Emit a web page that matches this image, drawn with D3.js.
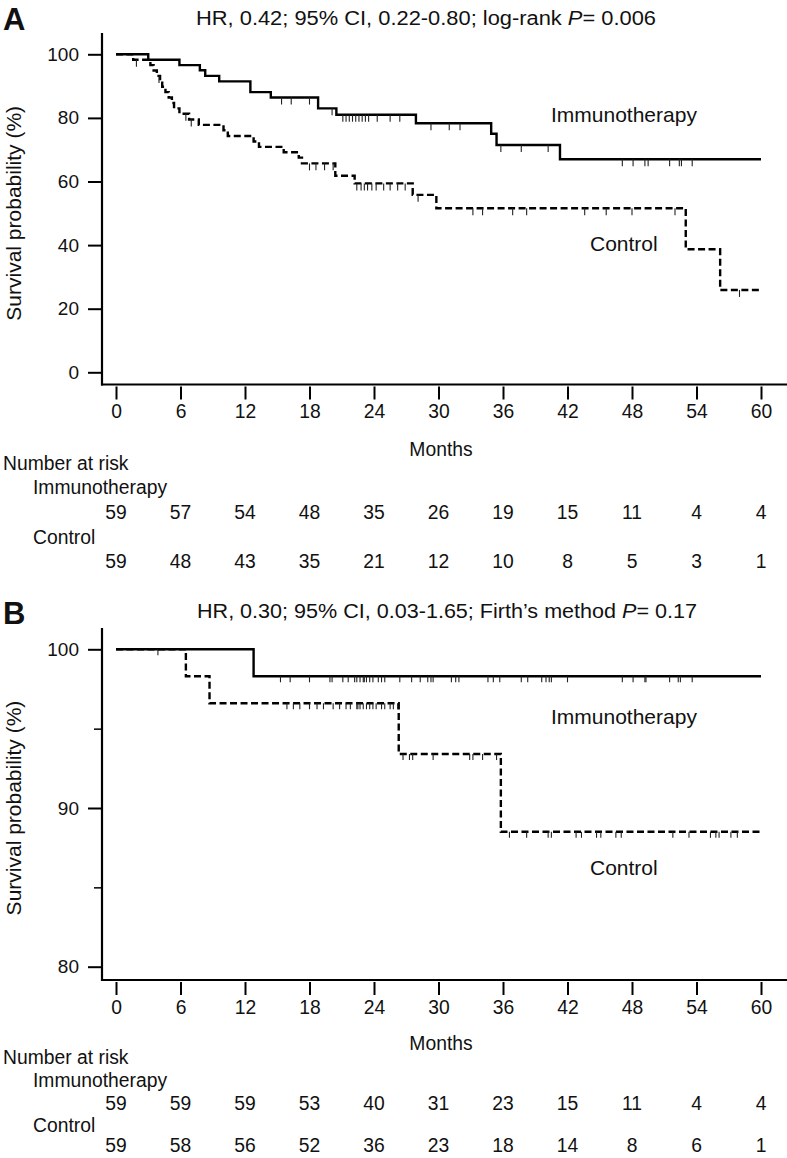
<!DOCTYPE html>
<html>
<head>
<meta charset="utf-8">
<script src="https://cdn.jsdelivr.net/npm/d3@7"></script>
<style>
  body { margin: 0; background: #fff; }
  svg { display: block; }
  text { fill: #111; }
</style>
</head>
<body>
<svg id="chart"></svg>
<script>
// ---- data ----
const monthTicks = [0, 6, 12, 18, 24, 30, 36, 42, 48, 54, 60];

// Panel A: events (month, survival %) and censor marks (month)
const immA_t = [3.0, 5.9, 7.8, 8.3, 9.6, 12.5, 14.4, 18.8, 20.5, 27.9, 34.9, 35.4, 41.3];
const immA_s = [98.3, 96.6, 95.0, 93.2, 91.5, 88.1, 86.4, 83.0, 81.0, 78.3, 75.0, 71.5, 67.0];
const immA_cens = [15.4, 16.3, 18.0, 20.1, 21.1, 21.4, 21.7, 22.0, 22.3, 22.6, 22.9, 23.2, 23.5, 24.3, 25.5, 26.4,
  29.3, 31.0, 32.0, 35.8, 37.7, 40.2, 47.1, 48.1, 49.2, 49.5, 51.5, 52.4, 52.6, 53.6];
const ctlA_t = [1.6, 3.2, 3.5, 3.8, 4.1, 4.3, 4.6, 4.9, 5.2, 5.4, 5.9, 6.8, 7.7, 10.0, 10.4, 12.8, 13.3,
  15.6, 17.0, 17.3, 20.4, 22.2, 27.6, 29.8, 53.0, 56.2];
const ctlA_s = [98.3, 96.6, 94.9, 93.2, 91.5, 89.8, 88.1, 86.4, 84.7, 83.0, 81.3, 79.5, 77.8, 76.1, 74.3, 72.6, 70.9,
  69.2, 67.5, 65.7, 61.8, 59.4, 55.8, 51.6, 38.7, 25.9];
const ctlA_cens = [1.9, 4.0, 6.5, 7.0, 18.0, 18.6, 19.4, 20.2, 22.4, 22.8, 23.1, 23.4, 23.8, 24.2, 24.9, 25.5,
  26.2, 26.9, 28.1, 33.2, 34.1, 36.9, 38.2, 43.6, 45.6, 48.0, 52.0, 58.0];
const riskA_imm = [59, 57, 54, 48, 35, 26, 19, 15, 11, 4, 4];
const riskA_ctl = [59, 48, 43, 35, 21, 12, 10, 8, 5, 3, 1];

// Panel B
const immB_t = [12.8];
const immB_s = [98.3];
const immB_cens = [3.9, 15.3, 16.2, 18.0, 19.9, 20.1, 21.1, 21.6, 22.2, 22.4, 22.7, 23.0, 23.1, 23.3, 23.6, 23.9,
  24.4, 24.7, 25.0, 26.4, 27.5, 28.3, 29.0, 29.3, 29.5, 31.2, 31.6, 31.9, 34.6, 35.1, 35.7, 37.7, 38.3,
  39.6, 40.0, 40.3, 40.5, 42.0, 47.1, 48.1, 49.2, 49.3, 51.5, 52.3, 52.5, 53.6];
const ctlB_t = [6.5, 8.7, 26.3, 35.8];
const ctlB_s = [98.3, 96.6, 93.4, 88.5];
const ctlB_cens = [15.9, 16.5, 17.1, 18.0, 18.7, 19.3, 20.2, 20.8, 21.4, 21.8, 22.4, 22.5, 22.7, 23.0, 23.3,
  23.6, 23.9, 24.2, 24.7, 25.0, 25.5, 25.8, 26.2, 26.7, 27.3, 27.6, 29.5, 32.9, 33.2, 34.1, 35.4, 36.6,
  38.2, 40.2, 40.5, 42.8, 43.3, 44.7, 45.1, 46.5, 47.0, 51.8, 53.3, 55.3, 55.8, 56.1, 57.2, 57.8];
const riskB_imm = [59, 59, 59, 53, 40, 31, 23, 15, 11, 4, 4];
const riskB_ctl = [59, 58, 56, 52, 36, 23, 18, 14, 8, 6, 1];

const W = 787, H = 1158;
const svg = d3.select('#chart').attr('width', W).attr('height', H);

// the lower texts use a tall, slightly narrow face in the original
const narrow = 'scale(0.92,1)';
const sans = 'Liberation Sans, Arial, sans-serif';

const x = d3.scaleLinear().domain([0, 60]).range([116, 761]);

function stepPoints(ts, ss) {
  const pts = [[0, 100]];
  ts.forEach((t, i) => pts.push([t, ss[i]]));
  pts.push([60, ss[ss.length - 1]]);
  return pts;
}
function survAt(ts, ss, t) {
  const i = d3.bisectRight(ts, t);
  return i === 0 ? 100 : ss[i - 1];
}

function panel(cfg) {
  const g = svg.append('g');
  const y = d3.scaleLinear().domain(cfg.yDomain).range(cfg.yRange);

  // panel letter and title
  g.append('text').attr('x', 3).attr('y', cfg.letterY)
    .style('font', `bold 31px ${sans}`).text(cfg.letter);
  const title = g.append('text').attr('x', cfg.titleX).attr('y', cfg.titleY)
    .attr('textLength', cfg.titleLen).attr('lengthAdjust', 'spacingAndGlyphs')
    .style('font', `20px ${sans}`);
  title.append('tspan').text(cfg.titlePre);
  title.append('tspan').style('font-style', 'italic').text('P');
  title.append('tspan').text(cfg.titlePost);

  // axes
  g.append('line').attr('x1', 102).attr('x2', 102).attr('y1', cfg.axisTop).attr('y2', cfg.axisY + 1)
    .attr('stroke', '#000').attr('stroke-width', 2.2);
  g.append('line').attr('x1', 101).attr('x2', W).attr('y1', cfg.axisY).attr('y2', cfg.axisY)
    .attr('stroke', '#000').attr('stroke-width', 2.2);

  const yAxis = g.append('g').attr('transform', 'translate(102,0)')
    .call(d3.axisLeft(y).tickValues(cfg.yTicks).tickSize(14).tickPadding(9));
  yAxis.select('.domain').remove();
  yAxis.selectAll('line').attr('stroke-width', 2);
  yAxis.selectAll('text').style('font', `19px ${sans}`).attr('fill', '#111');
  if (cfg.yMinor) {
    g.append('g').attr('transform', 'translate(102,0)')
      .call(d3.axisLeft(y).tickValues(cfg.yMinor).tickSize(8).tickFormat(''))
      .call(a => a.select('.domain').remove())
      .selectAll('line').attr('stroke-width', 1.5);
  }

  const xAxis = g.append('g').attr('transform', `translate(0,${cfg.axisY + 2})`)
    .call(d3.axisBottom(x).tickValues(monthTicks).tickSize(13).tickPadding(4));
  xAxis.select('.domain').remove();
  xAxis.selectAll('line').attr('stroke-width', 2);
  xAxis.selectAll('text').style('font', `21px ${sans}`).attr('fill', '#111')
    .attr('transform', narrow);

  g.append('text').attr('transform', `translate(21,${(cfg.yRange[0] + cfg.yRange[1]) / 2}) rotate(-90)`)
    .attr('text-anchor', 'middle').style('font', `21px ${sans}`).text('Survival probability (%)');

  // curves
  const line = d3.line().x(d => x(d[0])).y(d => y(d[1])).curve(d3.curveStepAfter);
  cfg.series.forEach(s => {
    g.append('path').datum(stepPoints(s.t, s.s)).attr('d', line)
      .attr('fill', 'none').attr('stroke', '#000').attr('stroke-width', 2.4)
      .attr('stroke-dasharray', s.dash ? '7,3.5' : null);
    g.append('g').selectAll('line').data(s.cens).join('line')
      .attr('x1', d => x(d)).attr('x2', d => x(d))
      .attr('y1', d => y(survAt(s.t, s.s, d)))
      .attr('y2', d => y(survAt(s.t, s.s, d)) + cfg.censLen)
      .attr('stroke', '#222').attr('stroke-width', 1.1);
    g.append('text').attr('x', s.labelX).attr('y', s.labelY)
      .style('font', `21px ${sans}`).text(s.name);
  });

  // axis title and numbers at risk
  const cond = (sel, px, py) => sel.attr('transform', `translate(${px},${py}) ${narrow}`)
    .style('font', `21px ${sans}`);
  cond(g.append('text').attr('text-anchor', 'middle'), 441, cfg.monthsY).text('Months');
  cond(g.append('text'), 3, cfg.riskY[0]).text('Number at risk');
  cond(g.append('text'), 33, cfg.riskY[1]).text('Immunotherapy');
  cond(g.append('text'), 33, cfg.riskY[3]).text('Control');
  [[cfg.riskImm, cfg.riskY[2]], [cfg.riskCtl, cfg.riskY[4]]].forEach(([vals, ry]) => {
    g.append('g').selectAll('text').data(vals).join('text')
      .attr('text-anchor', 'middle')
      .attr('transform', (d, i) => `translate(${x(monthTicks[i])},${ry}) ${narrow}`)
      .style('font', `21px ${sans}`).text(d => d);
  });
}

panel({
  letter: 'A', letterY: 30,
  titleX: 196, titleY: 25, titleLen: 460,
  titlePre: 'HR, 0.42; 95% CI, 0.22-0.80; log-rank ', titlePost: '= 0.006',
  yDomain: [0, 100], yRange: [372.3, 54.3], yTicks: [0, 20, 40, 60, 80, 100],
  axisTop: 33, axisY: 384.5, censLen: 7,
  monthsY: 456, riskY: [470, 494, 519, 544, 568],
  riskImm: riskA_imm, riskCtl: riskA_ctl,
  series: [
    { name: 'Immunotherapy', t: immA_t, s: immA_s, cens: immA_cens, dash: false, labelX: 551, labelY: 122 },
    { name: 'Control', t: ctlA_t, s: ctlA_s, cens: ctlA_cens, dash: true, labelX: 590, labelY: 251 }
  ]
});

panel({
  letter: 'B', letterY: 624,
  titleX: 197, titleY: 618, titleLen: 500,
  titlePre: 'HR, 0.30; 95% CI, 0.03-1.65; Firth\u2019s method ', titlePost: '= 0.17',
  yDomain: [80, 100], yRange: [966.7, 649.3], yTicks: [80, 90, 100], yMinor: [85, 95],
  axisTop: 628, axisY: 980, censLen: 6,
  monthsY: 1050, riskY: [1064, 1087, 1110, 1132, 1152],
  riskImm: riskB_imm, riskCtl: riskB_ctl,
  series: [
    { name: 'Immunotherapy', t: immB_t, s: immB_s, cens: immB_cens, dash: false, labelX: 551, labelY: 724 },
    { name: 'Control', t: ctlB_t, s: ctlB_s, cens: ctlB_cens, dash: true, labelX: 590, labelY: 875 }
  ]
});
</script>
</body>
</html>
